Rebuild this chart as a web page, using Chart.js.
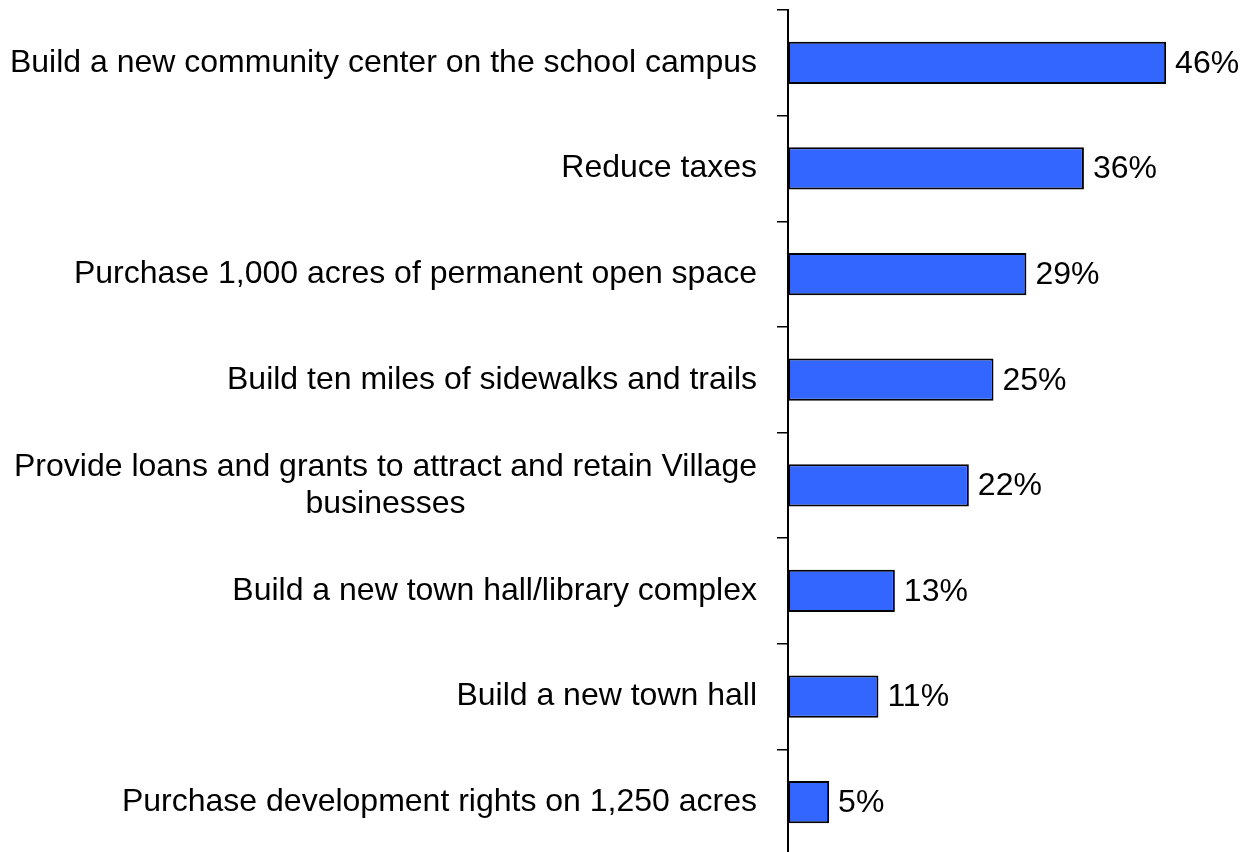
<!DOCTYPE html>
<html>
<head>
<meta charset="utf-8">
<script src="https://cdn.jsdelivr.net/npm/chart.js@4/dist/chart.umd.min.js"></script>
<style>
  html, body { margin: 0; padding: 0; background: #fff; overflow: hidden; height: 852px; }
  #wrap { width: 1247px; height: 855px; }
</style>
</head>
<body>
<div id="wrap"><canvas id="projectsChart"></canvas></div>
<script>
const categories = [
    "Build a new community center on the school campus",
    "Reduce taxes",
    "Purchase 1,000 acres of permanent open space",
    "Build ten miles of sidewalks and trails",
    ["Provide loans and grants to attract and retain Village", "businesses"],
    "Build a new town hall/library complex",
    "Build a new town hall",
    "Purchase development rights on 1,250 acres"
];
const support = [46, 36, 29, 25, 22, 13, 11, 5];

const FONT = "'Liberation Sans', Arial, sans-serif";
const AXIS_X = 788;

// draws the category labels (multi-line ones centred) and the value labels
const labelPlugin = {
    id: 'labels',
    afterDraw(chart) {
        const c = chart.ctx;
        const yScale = chart.scales.y;
        const xScale = chart.scales.x;
        c.save();
        c.fillStyle = '#000';
        c.font = `32px ${FONT}`;
        c.textBaseline = 'middle';
        c.textAlign = 'center';
        const right = yScale.right - 31;
        categories.forEach((label, i) => {
            const lines = Array.isArray(label) ? label : [label];
            const widest = Math.max(...lines.map(l => c.measureText(l).width));
            const y = yScale.getPixelForTick(i);
            const lh = 37;
            lines.forEach((line, j) => {
                c.fillText(line, right - widest / 2, y + (j - (lines.length - 1) / 2) * lh);
            });
        });
        c.textAlign = 'left';
        support.forEach((v, i) => {
            c.fillText(v + '%', xScale.getPixelForValue(v) + 9, yScale.getPixelForTick(i) + 1);
        });
        c.restore();
    }
};

new Chart(document.getElementById('projectsChart'), {
    type: 'bar',
    data: {
        labels: categories,
        datasets: [{
            data: support,
            backgroundColor: '#3366ff',
            borderColor: '#000',
            borderWidth: 2,
            borderSkipped: false,
            barPercentage: 0.4,
            categoryPercentage: 1
        }]
    },
    options: {
        indexAxis: 'y',
        responsive: true,
        maintainAspectRatio: false,
        animation: false,
        layout: { padding: { top: 10, right: 48, bottom: 0, left: 0 } },
        plugins: {
            legend: { display: false },
            tooltip: { enabled: false }
        },
        scales: {
            x: {
                display: false,
                min: 0,
                max: 50
            },
            y: {
                afterFit(scale) { scale.width = AXIS_X; },
                ticks: { display: false },
                grid: {
                    offset: true,
                    drawOnChartArea: false,
                    drawTicks: true,
                    tickLength: 11,
                    color: '#000',
                    lineWidth: 1.5
                },
                border: { display: true, color: '#000', width: 2 }
            }
        }
    },
    plugins: [labelPlugin]
});
</script>
</body>
</html>
